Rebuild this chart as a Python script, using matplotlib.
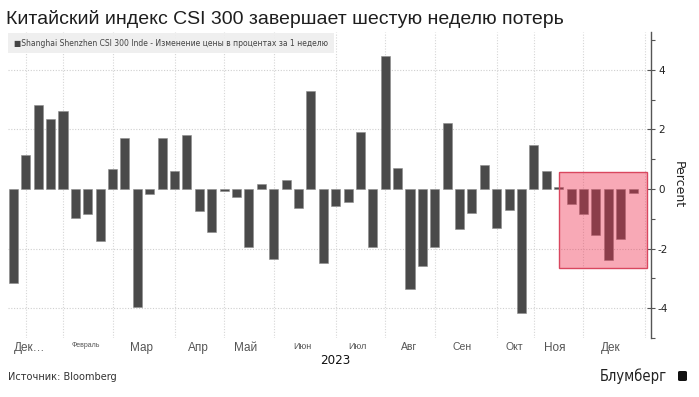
import matplotlib
matplotlib.use("Agg")
import matplotlib.pyplot as plt
from matplotlib import font_manager
from matplotlib.font_manager import FontProperties
from matplotlib.patches import Rectangle, FancyBboxPatch
from matplotlib.transforms import blended_transform_factory
import numpy as np

# ---------------- data ----------------
weekly_change = [
    -3.17, 1.14, 2.82, 2.35, 2.63, -0.96, -0.83, -1.73, 0.66, 1.71,
    -3.95, -0.18, 1.71, 0.60, 1.80, -0.74, -1.44, -0.08, -0.28, -1.96,
    0.18, -2.36, 0.30, -0.65, 3.29, -2.49, -0.56, -0.43, 1.92, -1.96,
    4.46, 0.70, -3.37, -2.57, -1.96, 2.23, -1.35, -0.82, 0.81, -1.31,
    -0.70, -4.15, 1.48, 0.60, 0.06, -0.49, -0.83, -1.53, -2.37, -1.69,
    -0.12,
]
month_labels = ["Дек…", "Февраль", "Мар", "Апр", "Май", "Июн", "Июл",
                "Авг", "Сен", "Окт", "Ноя", "Дек"]
month_label_pos = [1.33, 5.81, 10.37, 14.89, 18.72, 23.28, 27.76,
                   31.92, 36.2, 40.39, 43.7, 48.18]
month_grid_pos = [1, 4, 8, 13, 17, 21, 26, 30, 34, 39, 42, 46, 51]
highlight_start, highlight_end = 44.0, 51.1
highlight_low, highlight_high = -2.66, 0.56
year_label = "2023"
y_ticks = [-4, -2, 0, 2, 4]

title = "Китайский индекс CSI 300 завершает шестую неделю потерь"
legend_text = "■Shanghai Shenzhen CSI 300 Inde - Изменение цены в процентах за 1 неделю"
source_text = "Источник: Bloomberg"
brand_text = "Блумберг"

# ---------------- fonts ----------------
installed = {f.name for f in font_manager.fontManager.ttflist}
sans = "Liberation Sans" if "Liberation Sans" in installed else "DejaVu Sans"

cond_file = None
cands = []
for f in font_manager.fontManager.ttflist:
    st = str(f.stretch).lower()
    nm = f.name.lower()
    if ("narrow" in nm or "condensed" in nm or st in ("condensed", "semi-condensed",
                                                      "extra-condensed")) \
            and f.style == "normal" and f.weight in (400, "normal", "regular"):
        score = 0
        if "liberation" in nm:
            score -= 2
        if "dejavu" in nm:
            score -= 1
        cands.append((score, f.fname))
if cands:
    cands.sort()
    cond_file = cands[0][1]


def narrow_fp(size_cond, size_fallback):
    if cond_file:
        return FontProperties(fname=cond_file, size=size_cond)
    return FontProperties(family="DejaVu Sans", size=size_fallback)


W, H = 699, 397
fig = plt.figure(figsize=(W / 100, H / 100), dpi=100)
fig.patch.set_facecolor("white")

ax_left, ax_right, ax_top, ax_bottom = 8, 651, 31.7, 338
ax = fig.add_axes([ax_left / W, 1 - ax_bottom / H,
                   (ax_right - ax_left) / W, (ax_bottom - ax_top) / H])

x = np.arange(len(weekly_change))
ax.bar(x, weekly_change, width=0.73, color="#4a4a4a",
       edgecolor="#8c8c8c", linewidth=0.4, zorder=2)

ax.set_xlim(-0.44, 51.45)
ax.set_ylim(-5.0, 5.28)

# grid
for yv in [-4, -2, 2, 4]:
    ax.axhline(yv, color="#cfcfcf", linestyle=(0, (1, 1.5)), linewidth=0.8, zorder=0)
for xv in month_grid_pos:
    ax.axvline(xv, color="#d6d6d6", linestyle=(0, (1, 1.5)), linewidth=0.8, zorder=0)

# highlight box
ax.add_patch(Rectangle((highlight_start, highlight_low),
                       highlight_end - highlight_start,
                       highlight_high - highlight_low,
                       facecolor="#ee2a4a", alpha=0.4, edgecolor="none", zorder=3))
ax.add_patch(Rectangle((highlight_start, highlight_low),
                       highlight_end - highlight_start,
                       highlight_high - highlight_low,
                       facecolor="none", edgecolor="#d9475f", linewidth=1.0, zorder=3))

# spines
for s in ["left", "top", "bottom"]:
    ax.spines[s].set_visible(False)
ax.spines["right"].set_color("#555555")
ax.spines["right"].set_linewidth(1.0)

# y axis on right
ax.yaxis.tick_right()
ax.yaxis.set_label_position("right")
ax.set_yticks(y_ticks)
ax.set_yticklabels([str(v) for v in y_ticks])
ax.set_yticks([-5, -3, -1, 1, 3, 5], minor=True)
ax.tick_params(axis="y", which="major", direction="inout", length=6, width=0.8,
               color="#555555", labelsize=7.5, labelcolor="#222222", pad=2)
ax.tick_params(axis="y", which="minor", direction="out", length=3, width=0.8,
               color="#555555")
ax.set_ylabel("Percent", rotation=270, labelpad=12, fontsize=9, color="#222222")

# x labels
ax.set_xticks(month_label_pos)
ax.set_xticklabels(month_labels)
ax.tick_params(axis="x", length=0, pad=3, labelcolor="#555555")
sizes = {"Дек…": 8.5, "Февраль": 5, "Мар": 8.5, "Апр": 8.5, "Май": 8.5,
         "Июн": 6.5, "Июл": 6.5, "Авг": 7.5, "Сен": 7.5, "Окт": 7.5,
         "Ноя": 8.5, "Дек": 8.5}
for lbl in ax.get_xticklabels():
    lbl.set_fontsize(sizes.get(lbl.get_text(), 8))
    lbl.set_fontfamily(sans)

trans = blended_transform_factory(ax.transData, ax.transAxes)
ax.text(25.95, -(360 - ax_bottom) / (ax_bottom - ax_top), year_label,
        transform=trans, ha="center", va="center",
        fontproperties=narrow_fp(9.5, 8), color="#111111")

# title
fig.text(6 / W, 1 - 23.5 / H, title, ha="left", va="baseline", fontsize=14,
         family=sans, color="#1e1e1e")

# legend box
fig.patches.append(Rectangle((8 / W, 1 - 53 / H), (334 - 8) / W, 20 / H,
                             transform=fig.transFigure, facecolor="#eeeeee",
                             alpha=0.9, edgecolor="none", zorder=1))
fig.text(14 / W, 1 - 43 / H, legend_text, ha="left", va="center",
         fontproperties=narrow_fp(6.1, 5.6), color="#444444")

# footer
fig.text(8 / W, 1 - 377 / H, source_text, ha="left", va="center",
         fontproperties=narrow_fp(7.8, 7), color="#333333")
fig.text(667 / W, 1 - 376 / H, brand_text, ha="right", va="center",
         fontproperties=narrow_fp(10.5, 9.5), color="#222222")
fig.patches.append(FancyBboxPatch((678 / W, 1 - 381 / H), 9 / W, 10 / H,
                                  boxstyle="round,pad=0,rounding_size=0.003",
                                  transform=fig.transFigure, facecolor="#111111",
                                  edgecolor="none", zorder=2))

fig.savefig("out.png", dpi=100)
